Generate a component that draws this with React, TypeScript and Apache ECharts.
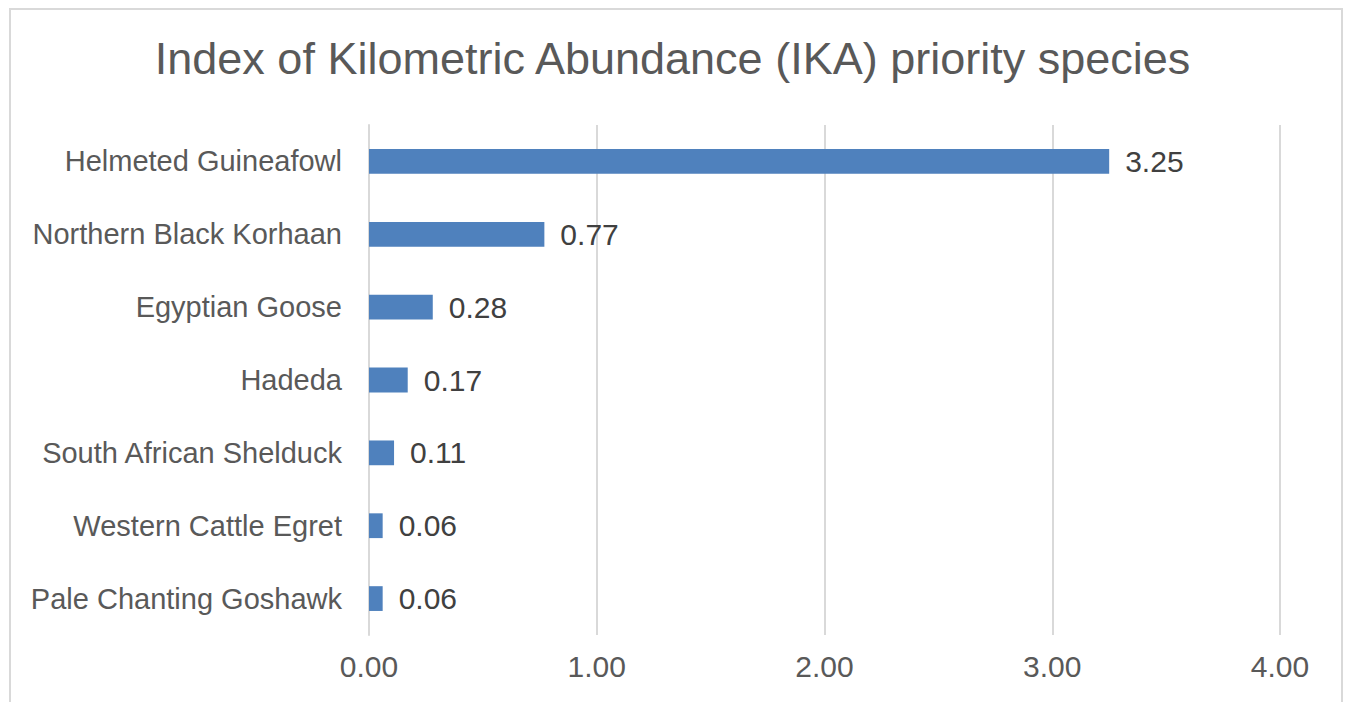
import React, { useEffect, useRef } from "react";
import * as echarts from "echarts";

const categories = [
  "Helmeted Guineafowl",
  "Northern Black Korhaan",
  "Egyptian Goose",
  "Hadeda",
  "South African Shelduck",
  "Western Cattle Egret",
  "Pale Chanting Goshawk",
];
const values = [3.25, 0.77, 0.28, 0.17, 0.11, 0.06, 0.06];
const xTicks = { min: 0, max: 4, interval: 1 };
const titleText = "Index of Kilometric Abundance (IKA) priority species";

export default function App() {
  const ref = useRef<HTMLDivElement>(null);
  useEffect(() => {
    if (!ref.current) return;
    const chart = echarts.init(ref.current, null, { renderer: "svg" });
    const font = "'Liberation Sans', Arial, sans-serif";
    chart.setOption({
      animation: false,
      backgroundColor: "#ffffff",
      title: {
        text: titleText,
        left: "center",
        top: 31,
        textStyle: { fontFamily: font, fontSize: 45, fontWeight: "normal", color: "#595959" },
      },
      graphic: [
        {
          type: "rect",
          shape: { x: 10, y: 9, width: 1332, height: 800 },
          style: { fill: "none", stroke: "#d9d9d9", lineWidth: 2 },
          silent: true,
        },
      ],
      grid: { left: 369, right: 65, top: 125, bottom: 67, containLabel: false },
      xAxis: {
        type: "value",
        min: xTicks.min,
        max: xTicks.max,
        interval: xTicks.interval,
        axisLine: { show: false },
        axisTick: { show: false },
        splitLine: { show: true, lineStyle: { color: "#d9d9d9", width: 2 } },
        axisLabel: {
          formatter: (v: number) => v.toFixed(2),
          fontFamily: font,
          fontSize: 30,
          color: "#595959",
          margin: 16,
        },
      },
      yAxis: {
        type: "category",
        data: categories,
        inverse: true,
        axisLine: { show: true, lineStyle: { color: "#d9d9d9", width: 2 } },
        axisTick: { show: false },
        axisLabel: { fontFamily: font, fontSize: 29, color: "#595959", margin: 27 },
      },
      series: [
        {
          type: "bar",
          data: values,
          barCategoryGap: "66%",
          itemStyle: { color: "#4f81bd" },
          label: {
            show: true,
            position: "right",
            distance: 16,
            formatter: (p: any) => Number(p.value).toFixed(2),
            fontFamily: font,
            fontSize: 30,
            color: "#404040",
          },
        },
      ],
    });
    return () => chart.dispose();
  }, []);
  return (
    <div
      ref={ref}
      style={{ position: "fixed", left: 0, top: 0, width: 1345, height: 702, background: "#fff" }}
    />
  );
}
